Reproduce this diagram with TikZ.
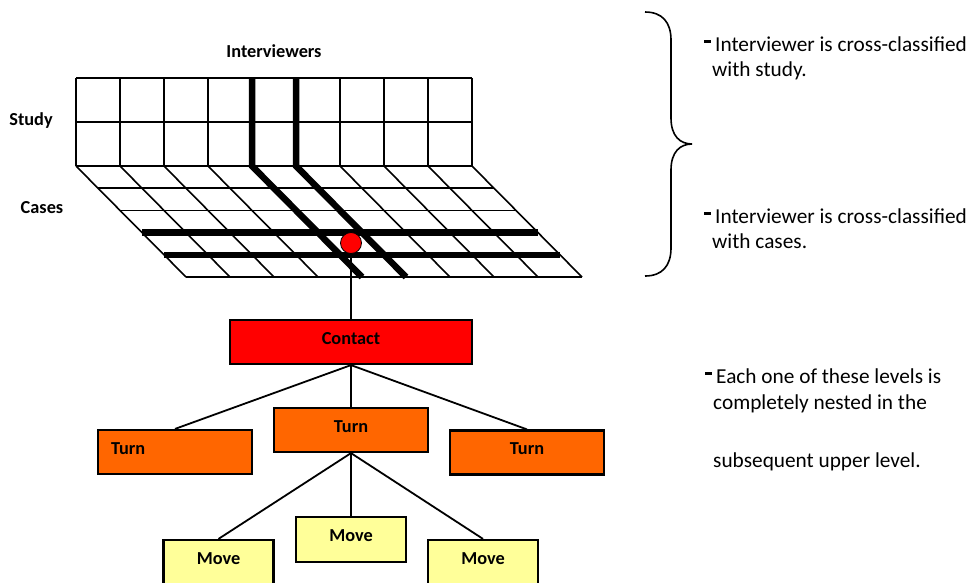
\documentclass[tikz,border=0pt]{standalone}
\usepackage{fontspec}
\setmainfont{Carlito}
\usetikzlibrary{positioning}

\definecolor{contactred}{HTML}{FF0000}
\definecolor{turnorange}{HTML}{FF6600}
\definecolor{moveyellow}{HTML}{FFFF99}

% raised dash hanging in front of a note
\newcommand{\hdash}{\llap{\raisebox{8.4pt}{\rule{7pt}{2.6pt}}\hspace{4pt}}}

\begin{document}
\begin{tikzpicture}[
		x=1pt,y=-1pt,
		every node/.style={font=\bfseries\fontsize{18.3}{22}\selectfont},
		gridline/.style={line width=1.6pt},
		heavyline/.style={line width=6.5pt},
		link/.style={line width=1.8pt},
		levelbox/.style={draw, line width=2.2pt, inner sep=0pt, text height=0.7em, text depth=0.25em},
		contactbox/.style={levelbox, fill=contactred, minimum width=242pt, minimum height=44pt},
		turnbox/.style={levelbox, fill=turnorange, minimum width=154pt, minimum height=44pt},
		movebox/.style={levelbox, fill=moveyellow, minimum width=110pt, minimum height=45pt},
		note/.style={anchor=base west, inner sep=0pt, font=\fontsize{21.3}{25}\selectfont}
		]
		\useasboundingbox (0,0) rectangle (971,582);
		
		% =========================
		% Top: study x interviewers
		% =========================
		\foreach \i in {0,...,9}
		\draw[gridline] (76+44*\i,78) -- (76+44*\i,166);
		\foreach \y in {78,122,166}
		\draw[gridline] (76,\y) -- (472,\y);
		
		% cases, seen in perspective
		\foreach \i in {0,...,9}
		\draw[gridline] (76+44*\i,166) -- (186+44*\i,277);
		\foreach \j in {0,...,5}
		\draw[gridline] ({76+22*\j},{166+22.2*\j}) -- ({472+22*\j},{166+22.2*\j});
		
		% one interviewer and one case
		\draw[heavyline] (252,78) -- (252,166) -- (362,277);
		\draw[heavyline] (296,78) -- (296,166) -- (406,277);
		\draw[heavyline] (142,232.6) -- (538,232.6);
		\draw[heavyline] (164,254.8) -- (560,254.8);
		
		\node[circle, draw, line width=0.8pt, fill=contactred, minimum size=21pt, inner sep=0pt] (dot) at (351,243) {};
		
		% labels
		\node[anchor=base] (interviewers) at (274,57) {Interviewers};
		\node[anchor=base] (study) at (31,125) {Study};
		\node[anchor=base] (cases) at (42,213) {Cases};
		
		% =========================
		% Bottom: nested levels
		% =========================
		\node[contactbox] (contact) at (351,342) {Contact};
		
		\node[turnbox, text width=128pt, align=left] (turnL) at (175,452) {Turn};
		\node[turnbox] (turnM) at (351,430) {Turn};
		\node[turnbox] (turnR) at (527,452.5) {Turn};
		
		\node[movebox] (moveL) at (218.5,562.5) {Move};
		\node[movebox] (moveM) at (351,539.5) {Move};
		\node[movebox] (moveR) at (483,562.5) {Move};
		
		\draw[link] (dot) -- (contact);
		\draw[link] (contact.south) -- (turnL.north);
		\draw[link] (contact.south) -- (turnM.north);
		\draw[link] (contact.south) -- (turnR.north);
		\draw[link] (turnM.south) -- (moveL.north);
		\draw[link] (turnM.south) -- (moveM.north);
		\draw[link] (turnM.south) -- (moveR.north);
		
		% =========================
		% Right: brace and notes
		% =========================
		\draw[line width=1.6pt] (645,12) .. controls (662,12) and (671,22) .. (671,40)
		-- (671,118) .. controls (671,136) and (680,144) .. (692,144)
		.. controls (680,144) and (671,152) .. (671,170)
		-- (671,248) .. controls (671,266) and (662,276) .. (645,276);
		
		\node[note] (note1a) at (715,51) {\hdash Interviewer is cross-classified};
		\node[note] (note1b) at (712,76) {with study.};
		\node[note] (note2a) at (715,223) {\hdash Interviewer is cross-classified};
		\node[note] (note2b) at (712,248) {with cases.};
		\node[note] (note3a) at (716,383) {\hdash Each one of these levels is};
		\node[note] (note3b) at (713,409) {completely nested in the};
		\node[note] (note3c) at (713,467) {subsequent upper level.};
		
	\end{tikzpicture}
\end{document}
